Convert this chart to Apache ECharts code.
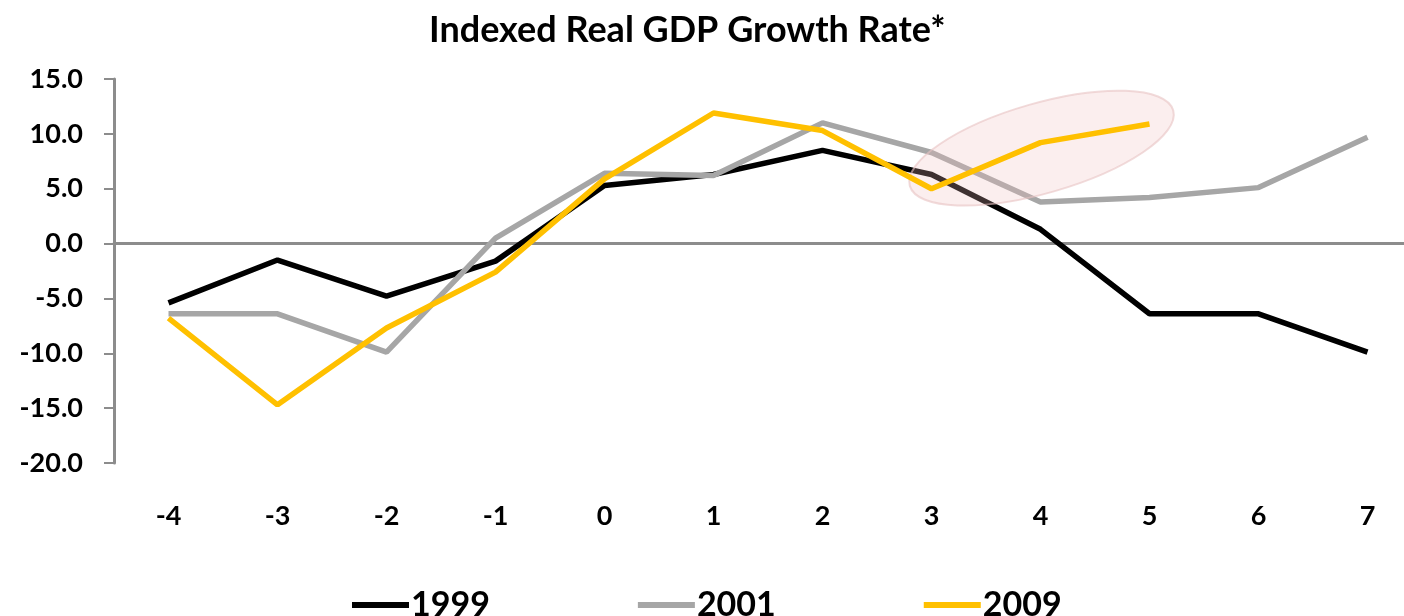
<!DOCTYPE html>
<html>
<head>
<meta charset="utf-8">
<script src="https://cdn.jsdelivr.net/npm/echarts@6/dist/echarts.min.js"></script>
<style>
  html, body { margin: 0; padding: 0; background: #fff; overflow: hidden; }
  /* a bit wider than the window: the plot runs off the right edge like the original */
  #main { width: 1424px; height: 616px; }
</style>
</head>
<body>
<div id="main"></div>
<script>
// quarters relative to the trough
const periods = ["-4", "-3", "-2", "-1", "0", "1", "2", "3", "4", "5", "6", "7"];
const rec1999 = [-5.4, -1.5, -4.8, -1.6, 5.3, 6.3, 8.5, 6.3, 1.3, -6.4, -6.4, -9.9];
const rec2001 = [-6.4, -6.4, -9.9, 0.5, 6.4, 6.2, 11.0, 8.3, 3.8, 4.2, 5.1, 9.7];
const rec2009 = [-6.8, -14.7, -7.7, -2.6, 5.9, 11.9, 10.3, 5.0, 9.2, 10.9, null, null];
const yMin = -20, yMax = 15, yStep = 5;

const font = "Lato, 'Open Sans', sans-serif";
const axisGrey = "#8c8c8c";

let chart = echarts.init(document.getElementById("main"));

chart.setOption({
  animation: false,
  title: {
    text: "Indexed Real GDP Growth Rate*",
    left: 424,
    top: 7,
    textStyle: { fontFamily: font, fontSize: 36, fontWeight: "bold", color: "#000" }
  },
  legend: {
    left: 352,
    top: 588,
    padding: 0,
    itemWidth: 57,
    itemHeight: 6,
    itemGap: 148,
    icon: "rect",
    textStyle: { fontFamily: font, fontSize: 34, fontWeight: "bold", color: "#000", padding: [0, 0, 0, -3] },
    data: ["1999", "2001", "2009"]
  },
  grid: { left: 114, top: 79, right: 2, height: 384 },
  xAxis: [
    {
      type: "category",
      data: periods,
      position: "bottom",
      axisLine: { show: false, onZero: false },
      axisTick: { show: false },
      axisLabel: { margin: 40, fontFamily: font, fontSize: 27, fontWeight: "bold", color: "#000" }
    },
    {
      type: "category",
      data: periods,
      position: "top",
      axisLine: { onZero: true, lineStyle: { color: axisGrey, width: 3 } },
      axisTick: { inside: true, length: 10, lineStyle: { color: axisGrey, width: 2 } },
      axisLabel: { show: false }
    }
  ],
  yAxis: {
    type: "value",
    min: yMin,
    max: yMax,
    interval: yStep,
    axisLine: { show: true, lineStyle: { color: axisGrey, width: 3 } },
    axisTick: { show: true, length: 10, lineStyle: { color: axisGrey, width: 2 } },
    splitLine: { show: false },
    axisLabel: {
      margin: 31,
      fontFamily: font,
      fontSize: 27,
      fontWeight: "bold",
      color: "#000",
      formatter: v => v.toFixed(1)
    }
  },
  series: [
    {
      name: "1999",
      type: "line",
      data: rec1999,
      color: "#000000",
      symbol: "none",
      lineStyle: { width: 5.5 },
      z: 2
    },
    {
      name: "2001",
      type: "line",
      data: rec2001,
      color: "#a6a6a6",
      symbol: "none",
      lineStyle: { width: 5.5 },
      z: 3
    },
    {
      name: "2009",
      type: "line",
      data: rec2009,
      color: "#ffc000",
      symbol: "none",
      lineStyle: { width: 5.5 },
      z: 10
    }
  ]
});

// highlight ring around the 2009 recovery
const centre = chart.convertToPixel({ xAxisIndex: 0, yAxisIndex: 0 }, ["4", 8.7]);
chart.setOption({
  graphic: [
    {
      type: "ellipse",
      x: centre[0] + 1,
      y: centre[1],
      rotation: 16 * Math.PI / 180,
      shape: { cx: 0, cy: 0, rx: 137, ry: 45 },
      style: { fill: "rgba(238, 190, 190, 0.26)", stroke: "rgba(232, 195, 195, 0.6)", lineWidth: 2 },
      z: 5
    }
  ]
});
</script>
</body>
</html>
